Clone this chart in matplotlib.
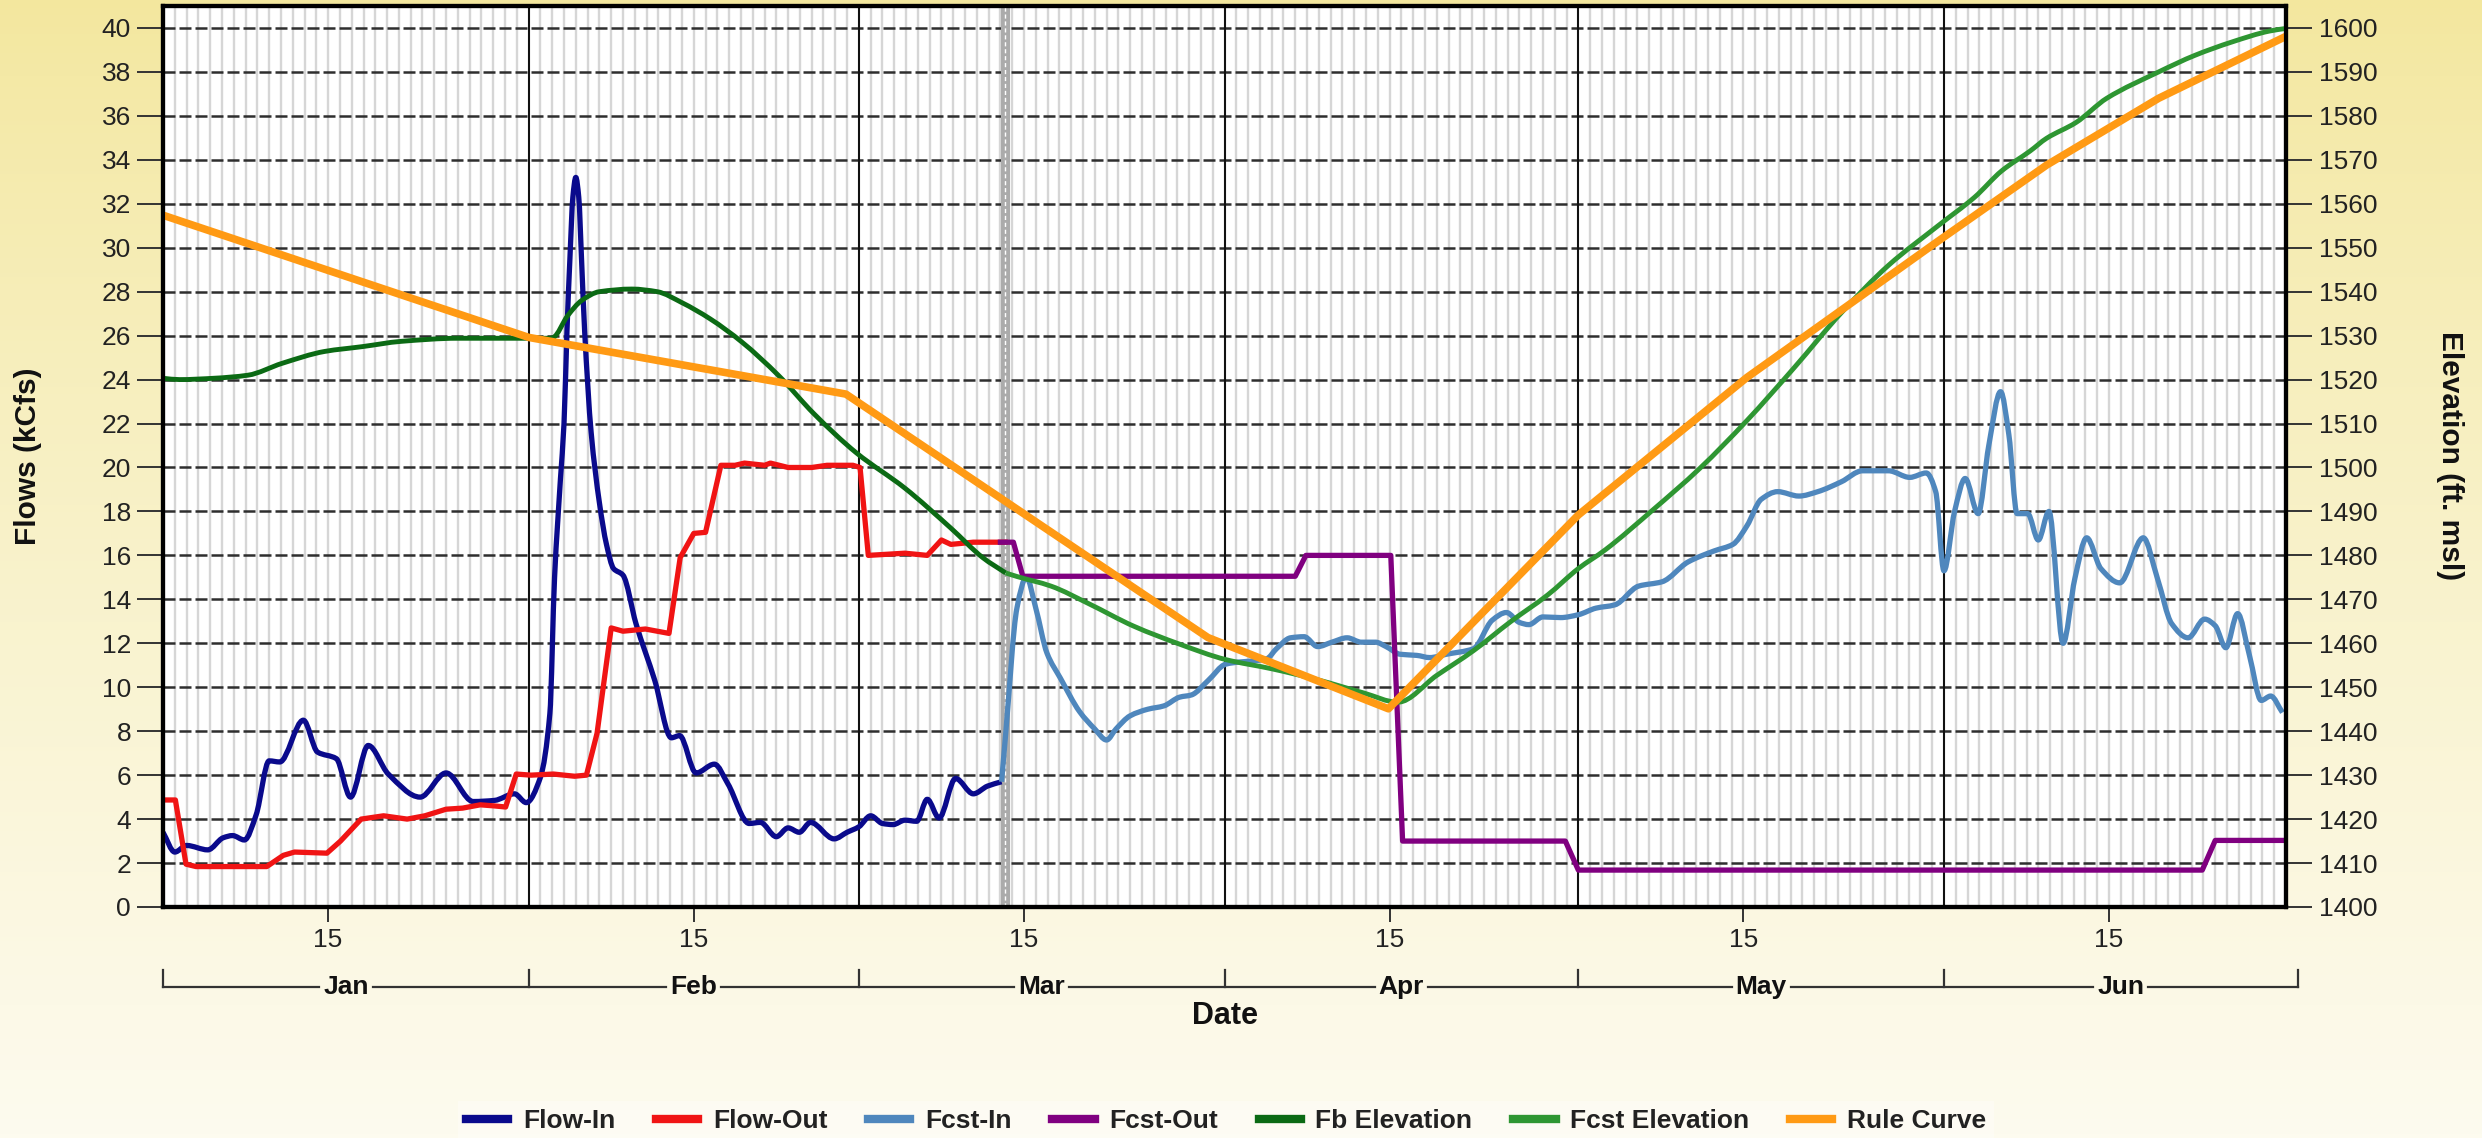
import numpy as np
import matplotlib
matplotlib.use("Agg")
import matplotlib.pyplot as plt
import matplotlib.transforms as mtransforms
from matplotlib.lines import Line2D
from matplotlib.path import Path
from matplotlib.patches import PathPatch

# ------------------------------------------------------------------ data
# x values are days since Jan 1 (non-leap year); flows in kcfs, elevations in ft msl
month_names = ["Jan", "Feb", "Mar", "Apr", "May", "Jun"]
month_start_day = [0, 31, 59, 90, 120, 151, 181]
mid_month_day = [14, 45, 73, 104, 134, 165]
mid_month_label = ["15", "15", "15", "15", "15", "15"]
now_day = 71.4

flow_in_day = [0, 1.0, 2.0, 3.8, 5.1, 5.9, 6.9, 7.9, 9.0, 9.9, 11.9, 13.1, 14.7, 15.9,
               17.4, 19.1, 21.8, 24.0, 26.3, 28.1, 29.8, 30.8, 32.0, 32.8, 33.2, 33.7,
               34.0, 34.25, 34.5, 34.75, 35.0, 35.25, 35.5, 35.75, 36.3, 37.0, 37.6,
               38.2, 39.0, 40.1, 41.7, 43.1, 43.8, 45.2, 46.75, 47.9, 49.7, 50.65,
               52.0, 53.0, 53.95, 54.9, 56.9, 58.0, 59.0, 60.0, 61.0, 61.9, 62.9, 63.9,
               64.8, 65.8, 67.2, 68.7, 69.9, 71.1]
flow_in = [3.4, 2.5, 2.8, 2.6, 3.15, 3.25, 3.05, 4.2, 6.65, 6.6, 8.5, 7.05, 6.75, 5.0,
           7.35, 6.05, 5.0, 6.1, 4.8, 4.85, 5.15, 4.75, 5.9, 8.8, 15.0, 19.5,
           22.0, 26.2, 29.5, 32.3, 33.2, 32.3, 29.3, 26.2, 21.6, 18.4, 16.5,
           15.4, 15.1, 12.9, 10.3, 7.7, 7.8, 6.1, 6.5, 5.6, 3.8, 3.85,
           3.2, 3.6, 3.4, 3.85, 3.1, 3.4, 3.65, 4.15, 3.8, 3.75, 3.95, 3.9,
           4.9, 4.05, 5.85, 5.15, 5.5, 5.7]

flow_out_day = [0, 1.05, 1.95, 2.8, 8.8, 10.2, 11.15, 13.9, 15.05, 16.8, 18.7, 20.7,
                22.2, 24.0, 25.4, 26.9, 28.1, 29.05, 29.95, 31.2, 33.1, 34.9, 35.9,
                36.8, 38.0, 39.0, 40.9, 42.9, 43.85, 45.0, 46.0, 47.3, 48.5, 49.3,
                51.0, 51.5, 53.0, 55.0, 56.3, 58.5, 59.1, 59.8, 62.9, 64.8, 66.0,
                66.8, 68.7, 71.4]
flow_out = [4.87, 4.87, 1.95, 1.84, 1.84, 2.35, 2.5, 2.45, 3.0, 4.0, 4.15, 4.0,
            4.15, 4.45, 4.5, 4.65, 4.6, 4.55, 6.05, 6.0, 6.05, 5.95, 6.0,
            7.9, 12.7, 12.55, 12.65, 12.45, 15.9, 17.0, 17.05, 20.1, 20.1, 20.2,
            20.1, 20.2, 20.0, 20.0, 20.1, 20.1, 20.0, 16.0, 16.1, 16.0, 16.7,
            16.5, 16.6, 16.6]

fcst_in_day = [71.1, 71.45, 72.4, 73.2, 74.0, 74.95, 76.1, 77.7, 79.0, 80.0, 80.8,
               82.0, 83.5, 84.85, 86.2, 87.2, 88.6, 90.1, 91.3, 92.5, 93.6, 94.4,
               95.6, 96.75, 97.9, 99.1, 100.4, 101.6, 102.8, 103.7, 104.9, 106.3,
               107.4, 108.8, 111.1, 112.7, 113.9, 115.0, 115.8, 117.0, 118.5, 120.0,
               121.5, 123.1, 125.1, 127.1, 129.3, 131.5, 133.1, 134.3, 135.5, 136.9,
               138.7, 140.3, 142.3, 144.1, 146.3, 148.1, 149.5, 150.3, 151.0, 151.9,
               152.8, 153.9, 154.8, 155.8, 156.5, 157.2, 158.1, 159.0, 159.9, 161.1,
               162.1, 163.1, 164.3, 165.9, 167.9, 169.1, 170.3, 171.7, 173.1, 174.0,
               174.9, 175.9, 176.9, 177.9, 178.7, 179.7]
fcst_in = [5.7, 7.9, 13.6, 15.0, 13.6, 11.55, 10.4, 8.9, 8.1, 7.6, 8.1,
           8.7, 9.0, 9.15, 9.55, 9.65, 10.3, 11.05, 11.15, 11.2, 11.3, 11.75,
           12.25, 12.3, 11.85, 12.05, 12.25, 12.05, 12.05, 11.85, 11.5, 11.45,
           11.35, 11.5, 11.75, 13.05, 13.4, 12.95, 12.85, 13.2, 13.17, 13.3,
           13.6, 13.75, 14.6, 14.8, 15.7, 16.2, 16.5, 17.35, 18.55, 18.9,
           18.7, 18.9, 19.35, 19.85, 19.85, 19.55, 19.75, 18.9, 15.3, 18.0,
           19.5, 17.9, 21.0, 23.45, 21.5, 17.9, 17.9, 16.7, 18.0, 12.0,
           14.95, 16.8, 15.4, 14.75, 16.8, 14.95, 12.9, 12.25, 13.1, 12.8,
           11.8, 13.35, 11.45, 9.4, 9.6, 8.85]

fcst_out_day = [71.0, 72.1, 72.9, 96.0, 96.9, 104.1, 105.1, 118.9, 120.0, 172.9, 174.0, 180.0]
fcst_out = [16.6, 16.6, 15.05, 15.05, 16.0, 16.0, 3.0, 3.0, 1.68, 1.68, 3.03, 3.03]

fb_elev_day = [0, 1.4, 4.3, 7.2, 10.1, 13.7, 16.9, 20.2, 25.0, 29.9, 32.8, 33.1, 34.3,
               35.5, 37.0, 39.75, 41.9, 44.0, 46.4, 49.1, 52.2, 55.2, 58.8, 62.9,
               66.8, 69.5, 71.45]
fb_elev = [1520.3, 1520.0, 1520.3, 1521.0, 1523.7, 1526.4, 1527.5, 1528.7, 1529.4,
           1529.4, 1529.4, 1529.6, 1534.5, 1538.0, 1540.0, 1540.6, 1540.0, 1537.5,
           1533.8, 1528.5, 1520.9, 1512.2, 1503.3, 1495.3, 1486.2, 1479.5, 1476.0]

fcst_elev_day = [71.45, 72.4, 75.3, 78.5, 82.3, 86.2, 90.1, 94.0, 97.9, 101.8, 104.7,
                 108.0, 111.1, 114.25, 117.4, 120.0, 122.3, 126.3, 130.3, 134.3, 138.3,
                 142.3, 146.3, 150.5, 153.6, 155.9, 158.3, 159.7, 162.2, 164.8, 169.2,
                 172.3, 175.4, 178.6, 180.0]
fcst_elev = [1476.0, 1475.2, 1473.0, 1469.0, 1463.9, 1459.8, 1456.3, 1454.2, 1451.7,
             1448.7, 1446.6, 1452.7, 1458.3, 1464.9, 1471.0, 1477.0, 1481.3, 1490.3,
             1499.8, 1510.7, 1522.7, 1535.2, 1546.0, 1555.0, 1561.5, 1567.5, 1572.0,
             1574.9, 1578.5, 1584.0, 1590.0, 1593.8, 1596.8, 1599.3, 1599.9]

rule_day = [0, 31.0, 57.9, 88.6, 103.9, 120.0, 134.3, 150.5, 159.7, 169.2, 180.0]
rule_elev = [1557.4, 1529.6, 1516.7, 1461.3, 1445.1, 1489.2, 1520.5, 1551.5, 1568.8,
             1584.0, 1598.1]

series_labels = ["Flow-In", "Flow-Out", "Fcst-In", "Fcst-Out", "Fb Elevation",
                 "Fcst Elevation", "Rule Curve"]
series_colors = ["#0A0A8C", "#F01414", "#4F87BD", "#800080", "#0B6A14", "#2E9632", "#FF9A14"]

flow_ticks = list(range(0, 41, 2))
elev_ticks = list(range(1400, 1601, 10))


# ------------------------------------------------------------------ helpers
def spline_path(xs, ys):
    """Smooth (spline-style) cubic Bezier path through the given points,
    like a charting library's 'spline' series; no overshoot at extrema."""
    x = np.asarray(xs, float)
    y = np.asarray(ys, float)
    n = len(x)
    d = np.diff(y) / np.diff(x)
    m = np.zeros(n)
    m[0], m[-1] = d[0], d[-1]
    for i in range(1, n - 1):
        if d[i - 1] * d[i] <= 0:
            m[i] = 0.0
        else:
            m[i] = 2.0 / (1.0 / d[i - 1] + 1.0 / d[i])
    verts = [(x[0], y[0])]
    codes = [Path.MOVETO]
    for i in range(n - 1):
        h = x[i + 1] - x[i]
        verts += [(x[i] + h / 3, y[i] + m[i] * h / 3),
                  (x[i + 1] - h / 3, y[i + 1] - m[i + 1] * h / 3),
                  (x[i + 1], y[i + 1])]
        codes += [Path.CURVE4] * 3
    return Path(verts, codes)


def draw_spline(a, xs, ys, color, lw, z):
    a.add_patch(PathPatch(spline_path(xs, ys), facecolor="none", edgecolor=color,
                          lw=lw, zorder=z, joinstyle="round", capstyle="butt"))


# ------------------------------------------------------------------ figure
FONT = "Liberation Sans"
plt.rcParams["font.family"] = [FONT, "DejaVu Sans"]

W, H = 2482, 1138
fig = plt.figure(figsize=(W / 100, H / 100), dpi=100)

# background gradient
bg = fig.add_axes([0, 0, 1, 1], zorder=-10)
t = np.linspace(0, 1, 300) ** 0.85
top_c = np.array([243, 231, 158]) / 255.0
bot_c = np.array([253, 251, 239]) / 255.0
img = top_c[None, None, :] + (bot_c - top_c)[None, None, :] * t[:, None, None]
bg.imshow(img, aspect="auto", extent=[0, 1, 0, 1], origin="upper")
bg.set_axis_off()

L, R, T, B = 163, 2286, 6, 907
ax = fig.add_axes([L / W, 1 - B / H, (R - L) / W, (B - T) / H])
ax.set_facecolor("white")
ax.set_xlim(0, 180)
ax.set_ylim(0, 41)

# daily vertical grid
xt = ax.get_xaxis_transform()
daily = [d for d in range(1, 180) if d not in month_start_day]
ax.vlines(daily, 0, 1, transform=xt, colors="#D6D6D6", lw=1.7, zorder=0.5)
# horizontal dashed grid
ax.hlines(flow_ticks[1:], 0, 180, colors="#2E2E2E", lw=1.8,
          linestyles=[(0, (4.8, 1.6))], zorder=0.8)
# month boundaries
ax.vlines([d for d in month_start_day if 0 < d < 180], 0, 1, transform=xt,
          colors="#111111", lw=1.5, zorder=0.9)
# current-time marker
ax.axvline(now_day, color="#ABABAB", lw=6.5, zorder=1.0)
ax.axvline(now_day, color="white", lw=1.0, ls=(0, (3, 2)), zorder=1.05)

lw_flow = 3.8
draw_spline(ax, flow_in_day, flow_in, series_colors[0], lw_flow, 2.0)
ax.plot(flow_out_day, flow_out, color=series_colors[1], lw=lw_flow, zorder=2.1,
        solid_joinstyle="round")
draw_spline(ax, fcst_in_day, fcst_in, series_colors[2], lw_flow, 2.2)
ax.plot(fcst_out_day, fcst_out, color=series_colors[3], lw=lw_flow, zorder=2.3,
        solid_joinstyle="round")

TICK_FS = 19
ax.set_yticks(flow_ticks)
ax.set_yticklabels([str(v) for v in flow_ticks])
ax.set_xticks(mid_month_day)
ax.set_xticklabels(mid_month_label)
ax.tick_params(axis="y", length=19, width=1.4, color="#333333", labelsize=TICK_FS, pad=4,
               labelcolor="#222222")
ax.tick_params(axis="x", length=11, width=1.4, color="#333333", labelsize=TICK_FS, pad=4,
               labelcolor="#222222")

ax2 = ax.twinx()
ax2.set_ylim(1400, 1605)
ax2.set_yticks(elev_ticks)
ax2.set_yticklabels([str(v) for v in elev_ticks])
ax2.tick_params(axis="y", length=19, width=1.4, color="#333333", labelsize=TICK_FS, pad=5,
                labelcolor="#222222")
draw_spline(ax2, fb_elev_day, fb_elev, series_colors[4], 3.5, 3.0)
draw_spline(ax2, fcst_elev_day, fcst_elev, series_colors[5], 3.5, 3.1)
ax2.plot(rule_day, rule_elev, color=series_colors[6], lw=5.5, zorder=3.2,
         solid_joinstyle="round", solid_capstyle="round")

for a in (ax, ax2):
    for s in a.spines.values():
        s.set_linewidth(3.0)
        s.set_color("black")
        s.set_zorder(10)

# month bracket under the axis
trans = mtransforms.blended_transform_factory(ax.transData, ax.transAxes)
ax_h = B - T
y_br = -(987 - B) / ax_h
y_tk = -(970 - B) / ax_h
month_texts = []
for i, name in enumerate(month_names):
    mid = (month_start_day[i] + month_start_day[i + 1]) / 2.0
    tx = ax.text(mid, y_br, name, transform=trans, ha="center", va="center",
                 fontsize=19, fontweight="bold", color="#111111", clip_on=False)
    month_texts.append(tx)
for d in month_start_day:
    ax.add_line(Line2D([d, d], [y_br, y_tk], transform=trans, color="#333333",
                       lw=1.6, clip_on=False))

fig.canvas.draw()
renderer = fig.canvas.get_renderer()
inv = ax.transData.inverted()
pad_px = 4
edges = [month_start_day[0]]
for tx in month_texts:
    bb = tx.get_window_extent(renderer)
    x0 = inv.transform((bb.x0 - pad_px, 0))[0]
    x1 = inv.transform((bb.x1 + pad_px, 0))[0]
    edges += [x0, x1]
edges.append(month_start_day[-1])
for k in range(0, len(edges), 2):
    ax.add_line(Line2D([edges[k], edges[k + 1]], [y_br, y_br], transform=trans,
                       color="#333333", lw=1.6, clip_on=False))

# axis titles
fig.text(28 / W, 1 - 456 / H, "Flows (kCfs)", rotation=90, ha="center", va="center",
         fontsize=21.5, fontweight="bold", color="#111111")
fig.text(2450 / W, 1 - 456 / H, "Elevation (ft. msl)", rotation=270, ha="center",
         va="center", fontsize=21.5, fontweight="bold", color="#111111")
fig.text((L + R) / 2 / W, 1 - 1016 / H, "Date", ha="center", va="center",
         fontsize=22, fontweight="bold", color="#111111")

# legend
handles = [Line2D([], [], color=c, lw=6) for c in series_colors]
leg = fig.legend(handles, series_labels, loc="center", bbox_to_anchor=(0.494, 1 - 1121 / H),
                 ncol=7, frameon=True, prop={"size": 19, "weight": "bold", "family": FONT},
                 handlelength=1.6, handletextpad=0.55, columnspacing=1.55,
                 borderpad=0.3, fancybox=False)
leg.get_frame().set_facecolor("white")
leg.get_frame().set_alpha(0.35)
leg.get_frame().set_edgecolor("none")
for txt in leg.get_texts():
    txt.set_color("#222222")

fig.savefig("out.png", dpi=100)
